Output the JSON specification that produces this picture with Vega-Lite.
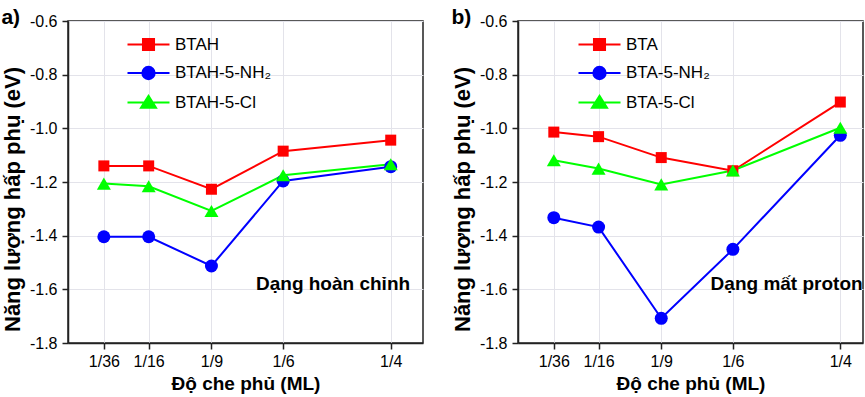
{
  "$schema": "https://vega.github.io/schema/vega-lite/v6.json",
  "background": "white",
  "padding": {"left": 0, "top": 6, "right": 0, "bottom": 0},
  "spacing": 26,
  "config": {
    "font": "Liberation Sans",
    "view": {"stroke": "#222", "strokeWidth": 1.5}
  },
  "datasets": {
    "a": [
      {"cov": 0.027778, "E": -1.14, "series": "BTAH"},
      {"cov": 0.0625, "E": -1.14, "series": "BTAH"},
      {"cov": 0.111111, "E": -1.227, "series": "BTAH"},
      {"cov": 0.166667, "E": -1.085, "series": "BTAH"},
      {"cov": 0.25, "E": -1.044, "series": "BTAH"},
      {"cov": 0.027778, "E": -1.404, "series": "BTAH-5-NH₂"},
      {"cov": 0.0625, "E": -1.404, "series": "BTAH-5-NH₂"},
      {"cov": 0.111111, "E": -1.513, "series": "BTAH-5-NH₂"},
      {"cov": 0.166667, "E": -1.196, "series": "BTAH-5-NH₂"},
      {"cov": 0.25, "E": -1.143, "series": "BTAH-5-NH₂"},
      {"cov": 0.027778, "E": -1.206, "series": "BTAH-5-Cl"},
      {"cov": 0.0625, "E": -1.216, "series": "BTAH-5-Cl"},
      {"cov": 0.111111, "E": -1.308, "series": "BTAH-5-Cl"},
      {"cov": 0.166667, "E": -1.175, "series": "BTAH-5-Cl"},
      {"cov": 0.25, "E": -1.134, "series": "BTAH-5-Cl"}
    ],
    "b": [
      {"cov": 0.027778, "E": -1.014, "series": "BTA"},
      {"cov": 0.0625, "E": -1.031, "series": "BTA"},
      {"cov": 0.111111, "E": -1.109, "series": "BTA"},
      {"cov": 0.166667, "E": -1.158, "series": "BTA"},
      {"cov": 0.25, "E": -0.902, "series": "BTA"},
      {"cov": 0.027778, "E": -1.333, "series": "BTA-5-NH₂"},
      {"cov": 0.0625, "E": -1.368, "series": "BTA-5-NH₂"},
      {"cov": 0.111111, "E": -1.708, "series": "BTA-5-NH₂"},
      {"cov": 0.166667, "E": -1.451, "series": "BTA-5-NH₂"},
      {"cov": 0.25, "E": -1.026, "series": "BTA-5-NH₂"},
      {"cov": 0.027778, "E": -1.119, "series": "BTA-5-Cl"},
      {"cov": 0.0625, "E": -1.15, "series": "BTA-5-Cl"},
      {"cov": 0.111111, "E": -1.209, "series": "BTA-5-Cl"},
      {"cov": 0.166667, "E": -1.157, "series": "BTA-5-Cl"},
      {"cov": 0.25, "E": -0.998, "series": "BTA-5-Cl"}
    ]
  },
  "resolve": {
    "scale": {"x": "independent", "y": "independent", "color": "independent"},
    "legend": {"color": "independent"}
  },
  "hconcat": [
    {
      "width": 355,
      "height": 322,
      "title": {"text": "a)", "anchor": "start", "frame": "bounds", "fontSize": 21, "fontWeight": "bold", "color": "black", "offset": 0, "dy": 15},
      "layer": [
        {
          "data": {"name": "a"},
          "encoding": {
            "x": {"field": "cov", "type": "quantitative",
              "scale": {"domain": [0, 0.275], "nice": false, "zero": false},
              "axis": {"title": "Độ che phủ (ML)", "titleFontSize": 19, "titleFontWeight": "bold", "titleColor": "black", "titlePadding": 5,
                "values": [0.027778, 0.0625, 0.111111, 0.166667, 0.25],
                "labelExpr": "datum.value < 0.04 ? '1/36' : datum.value < 0.08 ? '1/16' : datum.value < 0.13 ? '1/9' : datum.value < 0.2 ? '1/6' : '1/4'",
                "labelFontSize": 16, "labelColor": "black", "labelPadding": 4, "labelFlush": false, "labelOverlap": false,
                "tickSize": 6, "tickColor": "#222", "tickWidth": 1.5,
                "grid": true, "gridColor": "#e3e3ea", "gridWidth": 1,
                "domainColor": "#222", "domainWidth": 1.5}},
            "y": {"field": "E", "type": "quantitative",
              "scale": {"domain": [-1.8, -0.6], "nice": false, "zero": false},
              "axis": {"title": "Năng lượng hấp phụ (eV)", "titleFontSize": 22, "titleFontWeight": "bold", "titleColor": "black", "titlePadding": 5, "titleY": 178,
                "values": [-1.8, -1.7, -1.6, -1.5, -1.4, -1.3, -1.2, -1.1, -1.0, -0.9, -0.8, -0.7, -0.6],
                "labelExpr": "abs(round(datum.value*10))%2==0 ? (datum.value<0?'-':'') + format(abs(datum.value),'.1f') : ''",
                "labelFontSize": 16, "labelColor": "black", "labelPadding": 5, "labelFlush": false, "labelOverlap": false,
                "tickSize": {"condition": {"test": "abs(round(datum.value*10))%2==0", "value": 6}, "value": 3},
                "tickColor": "#222", "tickWidth": 1.5,
                "grid": true, "gridColor": "#e3e3ea", "gridWidth": 1,
                "gridOpacity": {"condition": {"test": "abs(round(datum.value*10))%2==0", "value": 1}, "value": 0},
                "domainColor": "#222", "domainWidth": 1.5}},
            "color": {"field": "series", "type": "nominal",
              "scale": {"domain": ["BTAH", "BTAH-5-NH₂", "BTAH-5-Cl"], "range": ["#ff0000", "#0000ff", "#00ff00"]},
              "legend": {"title": null, "orient": "none", "legendX": 86, "legendY": 15, "padding": 0,
                "symbolSize": 196, "symbolStrokeWidth": 2, "labelFontSize": 17, "labelColor": "black", "labelOffset": 4, "rowPadding": 7.5,
                "encode": {"symbols": {"update": {
                  "shape": {"signal": "indexof(datum.value,'NH')>=0 ? 'M-5,0H1M-2.88,0C-2.88,-0.486,-2.486,-0.88,-2,-0.88C-1.514,-0.88,-1.12,-0.486,-1.12,0C-1.12,0.486,-1.514,0.88,-2,0.88C-2.486,0.88,-2.88,0.486,-2.88,0Z' : indexof(datum.value,'Cl')>=0 ? 'M-5,0H1M-2,-0.95L-0.93,0.75H-3.07Z' : 'M-5,0H1M-2.79,-0.79H-1.21V0.79H-2.79Z'"},
                  "size": {"value": 196},
                  "fill": {"signal": "indexof(datum.value,'NH')>=0 ? '#0000ff' : indexof(datum.value,'Cl')>=0 ? '#00ff00' : '#ff0000'"},
                  "stroke": {"signal": "indexof(datum.value,'NH')>=0 ? '#0000ff' : indexof(datum.value,'Cl')>=0 ? '#00ff00' : '#ff0000'"},
                  "opacity": {"value": 1}, "fillOpacity": {"value": 1}, "strokeWidth": {"value": 2}}}}}}
          },
          "layer": [
            {"mark": {"type": "line", "strokeWidth": 2}},
            {"transform": [{"filter": "datum.series === 'BTAH'"}],
              "mark": {"type": "point", "shape": "square", "size": 121, "filled": true, "opacity": 1}},
            {"transform": [{"filter": "datum.series === 'BTAH-5-NH₂'"}],
              "mark": {"type": "point", "shape": "circle", "size": 169, "filled": true, "opacity": 1}},
            {"transform": [{"filter": "datum.series === 'BTAH-5-Cl'"}],
              "mark": {"type": "point", "shape": "triangle-up", "size": 196, "filled": true, "opacity": 1}}
          ]
        },
        {"data": {"values": [{}]},
          "mark": {"type": "text", "align": "right", "baseline": "middle", "fontSize": 19, "fontWeight": "bold", "color": "black"},
          "encoding": {"x": {"datum": 0.265, "type": "quantitative"}, "y": {"datum": -1.58, "type": "quantitative"}, "text": {"value": "Dạng hoàn chỉnh"}}}
      ]
    },
    {
      "width": 345,
      "height": 322,
      "title": {"text": "b)", "anchor": "start", "frame": "bounds", "fontSize": 21, "fontWeight": "bold", "color": "black", "offset": 0, "dy": 15},
      "layer": [
        {
          "data": {"name": "b"},
          "encoding": {
            "x": {"field": "cov", "type": "quantitative",
              "scale": {"domain": [0, 0.2676], "nice": false, "zero": false},
              "axis": {"title": "Độ che phủ (ML)", "titleFontSize": 19, "titleFontWeight": "bold", "titleColor": "black", "titlePadding": 5,
                "values": [0.027778, 0.0625, 0.111111, 0.166667, 0.25],
                "labelExpr": "datum.value < 0.04 ? '1/36' : datum.value < 0.08 ? '1/16' : datum.value < 0.13 ? '1/9' : datum.value < 0.2 ? '1/6' : '1/4'",
                "labelFontSize": 16, "labelColor": "black", "labelPadding": 4, "labelFlush": false, "labelOverlap": false,
                "tickSize": 6, "tickColor": "#222", "tickWidth": 1.5,
                "grid": true, "gridColor": "#e3e3ea", "gridWidth": 1,
                "domainColor": "#222", "domainWidth": 1.5}},
            "y": {"field": "E", "type": "quantitative",
              "scale": {"domain": [-1.8, -0.6], "nice": false, "zero": false},
              "axis": {"title": "Năng lượng hấp phụ (eV)", "titleFontSize": 22, "titleFontWeight": "bold", "titleColor": "black", "titlePadding": 5, "titleY": 178,
                "values": [-1.8, -1.7, -1.6, -1.5, -1.4, -1.3, -1.2, -1.1, -1.0, -0.9, -0.8, -0.7, -0.6],
                "labelExpr": "abs(round(datum.value*10))%2==0 ? (datum.value<0?'-':'') + format(abs(datum.value),'.1f') : ''",
                "labelFontSize": 16, "labelColor": "black", "labelPadding": 5, "labelFlush": false, "labelOverlap": false,
                "tickSize": {"condition": {"test": "abs(round(datum.value*10))%2==0", "value": 6}, "value": 3},
                "tickColor": "#222", "tickWidth": 1.5,
                "grid": true, "gridColor": "#e3e3ea", "gridWidth": 1,
                "gridOpacity": {"condition": {"test": "abs(round(datum.value*10))%2==0", "value": 1}, "value": 0},
                "domainColor": "#222", "domainWidth": 1.5}},
            "color": {"field": "series", "type": "nominal",
              "scale": {"domain": ["BTA", "BTA-5-NH₂", "BTA-5-Cl"], "range": ["#ff0000", "#0000ff", "#00ff00"]},
              "legend": {"title": null, "orient": "none", "legendX": 87, "legendY": 15, "padding": 0,
                "symbolSize": 196, "symbolStrokeWidth": 2, "labelFontSize": 17, "labelColor": "black", "labelOffset": 4, "rowPadding": 7.5,
                "encode": {"symbols": {"update": {
                  "shape": {"signal": "indexof(datum.value,'NH')>=0 ? 'M-5,0H1M-2.88,0C-2.88,-0.486,-2.486,-0.88,-2,-0.88C-1.514,-0.88,-1.12,-0.486,-1.12,0C-1.12,0.486,-1.514,0.88,-2,0.88C-2.486,0.88,-2.88,0.486,-2.88,0Z' : indexof(datum.value,'Cl')>=0 ? 'M-5,0H1M-2,-0.95L-0.93,0.75H-3.07Z' : 'M-5,0H1M-2.79,-0.79H-1.21V0.79H-2.79Z'"},
                  "size": {"value": 196},
                  "fill": {"signal": "indexof(datum.value,'NH')>=0 ? '#0000ff' : indexof(datum.value,'Cl')>=0 ? '#00ff00' : '#ff0000'"},
                  "stroke": {"signal": "indexof(datum.value,'NH')>=0 ? '#0000ff' : indexof(datum.value,'Cl')>=0 ? '#00ff00' : '#ff0000'"},
                  "opacity": {"value": 1}, "fillOpacity": {"value": 1}, "strokeWidth": {"value": 2}}}}}}
          },
          "layer": [
            {"mark": {"type": "line", "strokeWidth": 2}},
            {"transform": [{"filter": "datum.series === 'BTA'"}],
              "mark": {"type": "point", "shape": "square", "size": 121, "filled": true, "opacity": 1}},
            {"transform": [{"filter": "datum.series === 'BTA-5-NH₂'"}],
              "mark": {"type": "point", "shape": "circle", "size": 169, "filled": true, "opacity": 1}},
            {"transform": [{"filter": "datum.series === 'BTA-5-Cl'"}],
              "mark": {"type": "point", "shape": "triangle-up", "size": 196, "filled": true, "opacity": 1}}
          ]
        },
        {"data": {"values": [{}]},
          "mark": {"type": "text", "align": "right", "baseline": "middle", "fontSize": 19, "fontWeight": "bold", "color": "black"},
          "encoding": {"x": {"datum": 0.2673, "type": "quantitative"}, "y": {"datum": -1.58, "type": "quantitative"}, "text": {"value": "Dạng mất proton"}}}
      ]
    }
  ]
}
